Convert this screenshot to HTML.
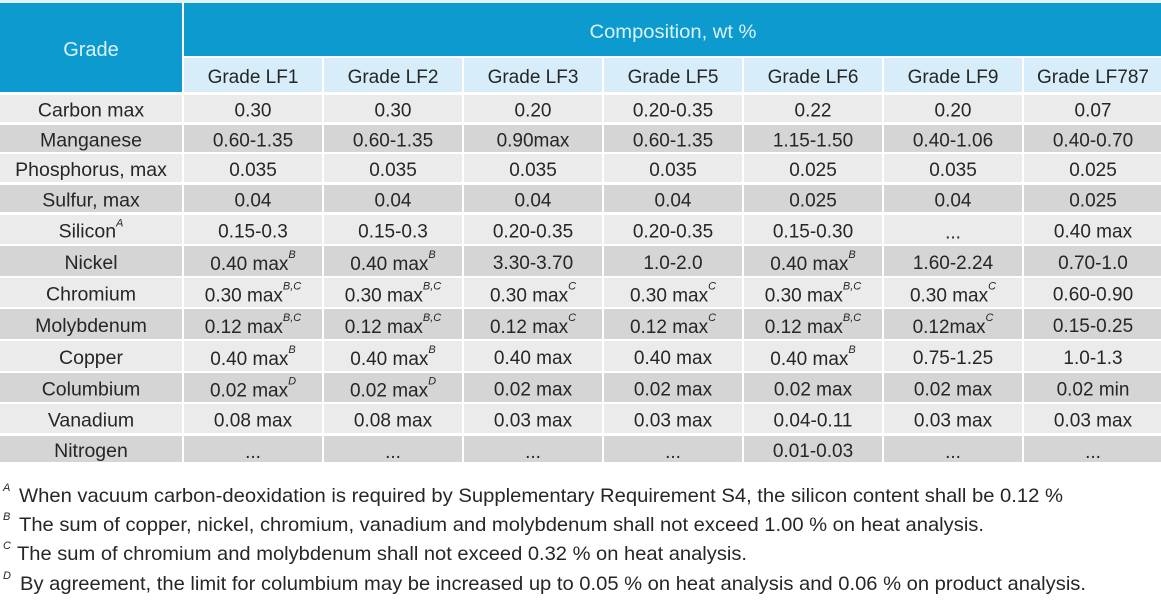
<!DOCTYPE html>
<html>
<head>
<meta charset="utf-8">
<style>
html,body{margin:0;padding:0;background:#fff;}
svg{display:block;}
text{font-family:"Liberation Sans",Arial,sans-serif;}
</style>
</head>
<body>
<svg width="1161" height="605" viewBox="0 0 1161 605" xmlns="http://www.w3.org/2000/svg">
<rect x="0" y="0" width="1161" height="605" fill="#ffffff"/>
<rect x="0" y="0" width="1161" height="3" fill="#e3f2f9"/>
<!-- header -->
<rect x="0" y="3" width="182" height="89" fill="#0d9acf"/>
<rect x="184" y="3" width="977" height="53" fill="#0d9acf"/>
<g fill="#d7eefa">
<rect x="184" y="58" width="138" height="34"/>
<rect x="324" y="58" width="138" height="34"/>
<rect x="464" y="58" width="138" height="34"/>
<rect x="604" y="58" width="138" height="34"/>
<rect x="744" y="58" width="138" height="34"/>
<rect x="884" y="58" width="138" height="34"/>
<rect x="1024" y="58" width="137" height="34"/>
</g>
<text x="91" y="56" text-anchor="middle" font-size="20" fill="#dcf2fc">Grade</text>
<text x="673" y="38" text-anchor="middle" font-size="19.5" fill="#dcf2fc" textLength="167" lengthAdjust="spacingAndGlyphs">Composition, wt %</text>
<g font-size="19" fill="#262626" text-anchor="middle">
<text x="253" y="83">Grade LF1</text>
<text x="393" y="83">Grade LF2</text>
<text x="533" y="83">Grade LF3</text>
<text x="673" y="83">Grade LF5</text>
<text x="813" y="83">Grade LF6</text>
<text x="953" y="83">Grade LF9</text>
<text x="1093" y="83">Grade LF787</text>
</g>

<!-- rows backgrounds -->
<g id="rows">
<g fill="#ebebeb">
<rect x="0" y="95" width="182" height="27"/><rect x="184" y="95" width="138" height="27"/><rect x="324" y="95" width="138" height="27"/><rect x="464" y="95" width="138" height="27"/><rect x="604" y="95" width="138" height="27"/><rect x="744" y="95" width="138" height="27"/><rect x="884" y="95" width="138" height="27"/><rect x="1024" y="95" width="137" height="27"/>
<rect x="0" y="154" width="182" height="28"/><rect x="184" y="154" width="138" height="28"/><rect x="324" y="154" width="138" height="28"/><rect x="464" y="154" width="138" height="28"/><rect x="604" y="154" width="138" height="28"/><rect x="744" y="154" width="138" height="28"/><rect x="884" y="154" width="138" height="28"/><rect x="1024" y="154" width="137" height="28"/>
<rect x="0" y="215" width="182" height="29"/><rect x="184" y="215" width="138" height="29"/><rect x="324" y="215" width="138" height="29"/><rect x="464" y="215" width="138" height="29"/><rect x="604" y="215" width="138" height="29"/><rect x="744" y="215" width="138" height="29"/><rect x="884" y="215" width="138" height="29"/><rect x="1024" y="215" width="137" height="29"/>
<rect x="0" y="278" width="182" height="29"/><rect x="184" y="278" width="138" height="29"/><rect x="324" y="278" width="138" height="29"/><rect x="464" y="278" width="138" height="29"/><rect x="604" y="278" width="138" height="29"/><rect x="744" y="278" width="138" height="29"/><rect x="884" y="278" width="138" height="29"/><rect x="1024" y="278" width="137" height="29"/>
<rect x="0" y="341" width="182" height="30"/><rect x="184" y="341" width="138" height="30"/><rect x="324" y="341" width="138" height="30"/><rect x="464" y="341" width="138" height="30"/><rect x="604" y="341" width="138" height="30"/><rect x="744" y="341" width="138" height="30"/><rect x="884" y="341" width="138" height="30"/><rect x="1024" y="341" width="137" height="30"/>
<rect x="0" y="404" width="182" height="29"/><rect x="184" y="404" width="138" height="29"/><rect x="324" y="404" width="138" height="29"/><rect x="464" y="404" width="138" height="29"/><rect x="604" y="404" width="138" height="29"/><rect x="744" y="404" width="138" height="29"/><rect x="884" y="404" width="138" height="29"/><rect x="1024" y="404" width="137" height="29"/>
</g>
<g fill="#d5d5d5">
<rect x="0" y="125" width="182" height="27"/><rect x="184" y="125" width="138" height="27"/><rect x="324" y="125" width="138" height="27"/><rect x="464" y="125" width="138" height="27"/><rect x="604" y="125" width="138" height="27"/><rect x="744" y="125" width="138" height="27"/><rect x="884" y="125" width="138" height="27"/><rect x="1024" y="125" width="137" height="27"/>
<rect x="0" y="185" width="182" height="27"/><rect x="184" y="185" width="138" height="27"/><rect x="324" y="185" width="138" height="27"/><rect x="464" y="185" width="138" height="27"/><rect x="604" y="185" width="138" height="27"/><rect x="744" y="185" width="138" height="27"/><rect x="884" y="185" width="138" height="27"/><rect x="1024" y="185" width="137" height="27"/>
<rect x="0" y="246" width="182" height="30"/><rect x="184" y="246" width="138" height="30"/><rect x="324" y="246" width="138" height="30"/><rect x="464" y="246" width="138" height="30"/><rect x="604" y="246" width="138" height="30"/><rect x="744" y="246" width="138" height="30"/><rect x="884" y="246" width="138" height="30"/><rect x="1024" y="246" width="137" height="30"/>
<rect x="0" y="309" width="182" height="30"/><rect x="184" y="309" width="138" height="30"/><rect x="324" y="309" width="138" height="30"/><rect x="464" y="309" width="138" height="30"/><rect x="604" y="309" width="138" height="30"/><rect x="744" y="309" width="138" height="30"/><rect x="884" y="309" width="138" height="30"/><rect x="1024" y="309" width="137" height="30"/>
<rect x="0" y="373" width="182" height="29"/><rect x="184" y="373" width="138" height="29"/><rect x="324" y="373" width="138" height="29"/><rect x="464" y="373" width="138" height="29"/><rect x="604" y="373" width="138" height="29"/><rect x="744" y="373" width="138" height="29"/><rect x="884" y="373" width="138" height="29"/><rect x="1024" y="373" width="137" height="29"/>
<rect x="0" y="436" width="182" height="26"/><rect x="184" y="436" width="138" height="26"/><rect x="324" y="436" width="138" height="26"/><rect x="464" y="436" width="138" height="26"/><rect x="604" y="436" width="138" height="26"/><rect x="744" y="436" width="138" height="26"/><rect x="884" y="436" width="138" height="26"/><rect x="1024" y="436" width="137" height="26"/>
</g>
</g>

<!-- labels -->
<g font-size="19.5" fill="#262626" text-anchor="middle">
<text x="91" y="116.5">Carbon max</text>
<text x="91" y="146.5">Manganese</text>
<text x="91" y="176">Phosphorus, max</text>
<text x="91" y="206.5">Sulfur, max</text>
<text x="91" y="237.5">Silicon<tspan font-size="11" font-style="italic" dy="-11">A</tspan></text>
<text x="91" y="269">Nickel</text>
<text x="91" y="300.5">Chromium</text>
<text x="91" y="332">Molybdenum</text>
<text x="91" y="364">Copper</text>
<text x="91" y="395.5">Columbium</text>
<text x="91" y="426.5">Vanadium</text>
<text x="91" y="457">Nitrogen</text>
</g>

<!-- data -->
<g font-size="19" fill="#262626" text-anchor="middle">
<text x="253" y="116.5">0.30</text><text x="393" y="116.5">0.30</text><text x="533" y="116.5">0.20</text><text x="673" y="116.5">0.20-0.35</text><text x="813" y="116.5">0.22</text><text x="953" y="116.5">0.20</text><text x="1093" y="116.5">0.07</text>
<text x="253" y="146.5">0.60-1.35</text><text x="393" y="146.5">0.60-1.35</text><text x="533" y="146.5">0.90max</text><text x="673" y="146.5">0.60-1.35</text><text x="813" y="146.5">1.15-1.50</text><text x="953" y="146.5">0.40-1.06</text><text x="1093" y="146.5">0.40-0.70</text>
<text x="253" y="176">0.035</text><text x="393" y="176">0.035</text><text x="533" y="176">0.035</text><text x="673" y="176">0.035</text><text x="813" y="176">0.025</text><text x="953" y="176">0.035</text><text x="1093" y="176">0.025</text>
<text x="253" y="206.5">0.04</text><text x="393" y="206.5">0.04</text><text x="533" y="206.5">0.04</text><text x="673" y="206.5">0.04</text><text x="813" y="206.5">0.025</text><text x="953" y="206.5">0.04</text><text x="1093" y="206.5">0.025</text>
<text x="253" y="237.5">0.15-0.3</text><text x="393" y="237.5">0.15-0.3</text><text x="533" y="237.5">0.20-0.35</text><text x="673" y="237.5">0.20-0.35</text><text x="813" y="237.5">0.15-0.30</text><text x="953" y="238.5">...</text><text x="1093" y="237.5">0.40 max</text>
<text x="253" y="270">0.40 max<tspan font-size="11" font-style="italic" dy="-12">B</tspan></text>
<text x="393" y="270">0.40 max<tspan font-size="11" font-style="italic" dy="-12">B</tspan></text>
<text x="533" y="269">3.30-3.70</text>
<text x="673" y="269">1.0-2.0</text>
<text x="813" y="270">0.40 max<tspan font-size="11" font-style="italic" dy="-12">B</tspan></text>
<text x="953" y="269">1.60-2.24</text>
<text x="1093" y="269">0.70-1.0</text>
<text x="253" y="301.5">0.30 max<tspan font-size="11" font-style="italic" dy="-12">B,C</tspan></text>
<text x="393" y="301.5">0.30 max<tspan font-size="11" font-style="italic" dy="-12">B,C</tspan></text>
<text x="533" y="301.5">0.30 max<tspan font-size="11" font-style="italic" dy="-12">C</tspan></text>
<text x="673" y="301.5">0.30 max<tspan font-size="11" font-style="italic" dy="-12">C</tspan></text>
<text x="813" y="301.5">0.30 max<tspan font-size="11" font-style="italic" dy="-12">B,C</tspan></text>
<text x="953" y="301.5">0.30 max<tspan font-size="11" font-style="italic" dy="-12">C</tspan></text>
<text x="1093" y="300.5">0.60-0.90</text>
<text x="253" y="333">0.12 max<tspan font-size="11" font-style="italic" dy="-12">B,C</tspan></text>
<text x="393" y="333">0.12 max<tspan font-size="11" font-style="italic" dy="-12">B,C</tspan></text>
<text x="533" y="333">0.12 max<tspan font-size="11" font-style="italic" dy="-12">C</tspan></text>
<text x="673" y="333">0.12 max<tspan font-size="11" font-style="italic" dy="-12">C</tspan></text>
<text x="813" y="333">0.12 max<tspan font-size="11" font-style="italic" dy="-12">B,C</tspan></text>
<text x="953" y="333">0.12max<tspan font-size="11" font-style="italic" dy="-12">C</tspan></text>
<text x="1093" y="332">0.15-0.25</text>
<text x="253" y="365">0.40 max<tspan font-size="11" font-style="italic" dy="-12">B</tspan></text>
<text x="393" y="365">0.40 max<tspan font-size="11" font-style="italic" dy="-12">B</tspan></text>
<text x="533" y="364">0.40 max</text>
<text x="673" y="364">0.40 max</text>
<text x="813" y="365">0.40 max<tspan font-size="11" font-style="italic" dy="-12">B</tspan></text>
<text x="953" y="364">0.75-1.25</text>
<text x="1093" y="364">1.0-1.3</text>
<text x="253" y="396.5">0.02 max<tspan font-size="11" font-style="italic" dy="-12">D</tspan></text>
<text x="393" y="396.5">0.02 max<tspan font-size="11" font-style="italic" dy="-12">D</tspan></text>
<text x="533" y="395.5">0.02 max</text>
<text x="673" y="395.5">0.02 max</text>
<text x="813" y="395.5">0.02 max</text>
<text x="953" y="395.5">0.02 max</text>
<text x="1093" y="395.5">0.02 min</text>
<text x="253" y="426.5">0.08 max</text><text x="393" y="426.5">0.08 max</text><text x="533" y="426.5">0.03 max</text><text x="673" y="426.5">0.03 max</text><text x="813" y="426.5">0.04-0.11</text><text x="953" y="426.5">0.03 max</text><text x="1093" y="426.5">0.03 max</text>
<text x="253" y="458">...</text><text x="393" y="458">...</text><text x="533" y="458">...</text><text x="673" y="458">...</text><text x="813" y="457">0.01-0.03</text><text x="953" y="458">...</text><text x="1093" y="458">...</text>
</g>

<!-- footnotes -->
<g fill="#262626">
<text x="3" y="491" font-size="11" font-style="italic">A</text>
<text x="19" y="502" font-size="19.5" textLength="1044" lengthAdjust="spacingAndGlyphs">When vacuum carbon-deoxidation is required by Supplementary Requirement S4, the silicon content shall be 0.12 %</text>
<text x="3" y="520" font-size="11" font-style="italic">B</text>
<text x="19" y="531" font-size="19.5" textLength="965" lengthAdjust="spacingAndGlyphs">The sum of copper, nickel, chromium, vanadium and molybdenum shall not exceed 1.00 % on heat analysis.</text>
<text x="3" y="549" font-size="11" font-style="italic">C</text>
<text x="17" y="560" font-size="19.5" textLength="730" lengthAdjust="spacingAndGlyphs">The sum of chromium and molybdenum shall not exceed 0.32 % on heat analysis.</text>
<text x="3" y="579" font-size="11" font-style="italic">D</text>
<text x="20" y="590" font-size="19.5" textLength="1066" lengthAdjust="spacingAndGlyphs">By agreement, the limit for columbium may be increased up to 0.05 % on heat analysis and 0.06 % on product analysis.</text>
</g>
</svg>
</body>
</html>
